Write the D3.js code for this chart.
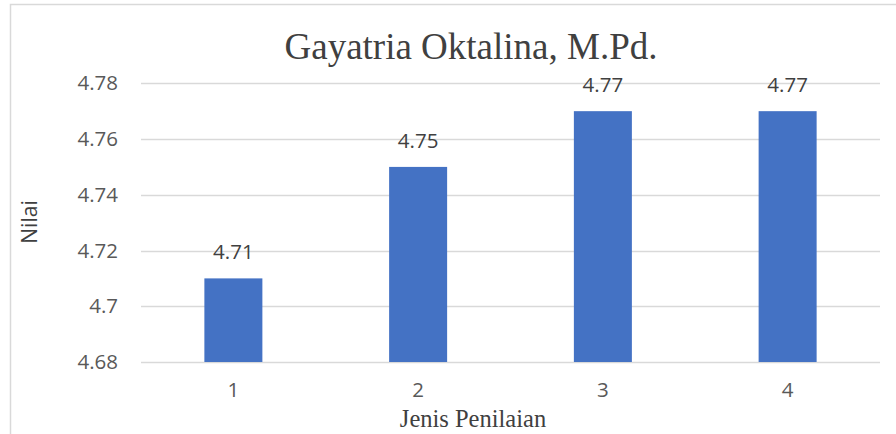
<!DOCTYPE html>
<html>
<head>
<meta charset="utf-8">
<script src="https://cdn.jsdelivr.net/npm/d3@7"></script>
<style>
  body { margin: 0; background: #fff; }
  #canvas { width: 896px; height: 434px; }
</style>
</head>
<body>
<div id="canvas"></div>
<script>
// chart data
var categories = ["1", "2", "3", "4"];
var values = [4.71, 4.75, 4.77, 4.77];
var yTicks = [4.68, 4.70, 4.72, 4.74, 4.76, 4.78];
var yTickLabels = ["4.68", "4.7", "4.72", "4.74", "4.76", "4.78"];
var chartTitle = "Gayatria Oktalina, M.Pd.";
var xTitle = "Jenis Penilaian";
var yTitle = "Nilai";

var ChartUtil = {
  draw: function() {
    var width = 896, height = 434;
    var plot = { left: 141, right: 880, top: 83.3, bottom: 362 };
    var sans = "'Open Sans', sans-serif";
    var serif = "'Liberation Serif', 'Times New Roman', serif";

    var svg = d3.select("#canvas").append("svg")
      .attr("width", width)
      .attr("height", height);

    // chart border (only left/top visible in the crop)
    svg.append("rect")
      .attr("x", 10.5).attr("y", 4.5)
      .attr("width", 1000).attr("height", 1000)
      .attr("fill", "none")
      .attr("stroke", "#d9d9d9")
      .attr("stroke-width", 1.5);

    var x = d3.scaleBand()
      .domain(categories)
      .range([plot.left, plot.right])
      .paddingInner(0.686)
      .paddingOuter(0.343);

    var y = d3.scaleLinear()
      .domain([4.68, 4.78])
      .range([plot.bottom, plot.top]);

    // gridlines
    svg.append("g")
      .selectAll("line")
      .data(yTicks)
      .enter().append("line")
      .attr("x1", plot.left).attr("x2", plot.right)
      .attr("y1", function(d) { return Math.round(y(d)) + 0.5; })
      .attr("y2", function(d) { return Math.round(y(d)) + 0.5; })
      .attr("stroke", "#d9d9d9")
      .attr("stroke-width", 1.3);

    // y axis labels
    var yAxis = svg.append("g")
      .attr("transform", "translate(" + plot.left + ",0)")
      .call(d3.axisLeft(y).tickValues(yTicks)
        .tickFormat(function(d, i) { return yTickLabels[i]; })
        .tickSize(0).tickPadding(23));
    yAxis.select(".domain").remove();
    yAxis.selectAll("text")
      .attr("font-family", sans)
      .attr("font-size", 20.5)
      .attr("fill", "#595959");

    // bars
    svg.append("g")
      .selectAll("rect")
      .data(values)
      .enter().append("rect")
      .attr("x", function(d, i) { return x(categories[i]); })
      .attr("width", x.bandwidth())
      .attr("y", function(d) { return y(d); })
      .attr("height", function(d) { return y(4.68) - y(d); })
      .attr("fill", "#4472c4");

    // data labels
    svg.append("g")
      .selectAll("text")
      .data(values)
      .enter().append("text")
      .attr("x", function(d, i) { return x(categories[i]) + x.bandwidth() / 2; })
      .attr("y", function(d) { return y(d) - 19; })
      .attr("text-anchor", "middle")
      .attr("font-family", sans)
      .attr("font-size", 20.5)
      .attr("fill", "#404040")
      .text(function(d) { return d.toFixed(2); });

    // x axis labels
    var xAxis = svg.append("g")
      .attr("transform", "translate(0," + plot.bottom + ")")
      .call(d3.axisBottom(x).tickSize(0).tickPadding(20));
    xAxis.select(".domain").remove();
    xAxis.selectAll("text")
      .attr("font-family", sans)
      .attr("font-size", 20.5)
      .attr("fill", "#595959");

    // titles
    svg.append("text")
      .attr("x", 471).attr("y", 59)
      .attr("text-anchor", "middle")
      .attr("font-family", serif)
      .attr("font-size", 37)
      .attr("fill", "#404040")
      .text(chartTitle);

    svg.append("text")
      .attr("x", 473).attr("y", 427)
      .attr("text-anchor", "middle")
      .attr("font-family", serif)
      .attr("font-size", 24.5)
      .attr("fill", "#404040")
      .text(xTitle);

    svg.append("text")
      .attr("transform", "translate(37,222) rotate(-90)")
      .attr("text-anchor", "middle")
      .attr("font-family", sans)
      .attr("font-size", 21)
      .attr("fill", "#404040")
      .text(yTitle);
  }
};
ChartUtil.draw();
</script>
</body>
</html>
